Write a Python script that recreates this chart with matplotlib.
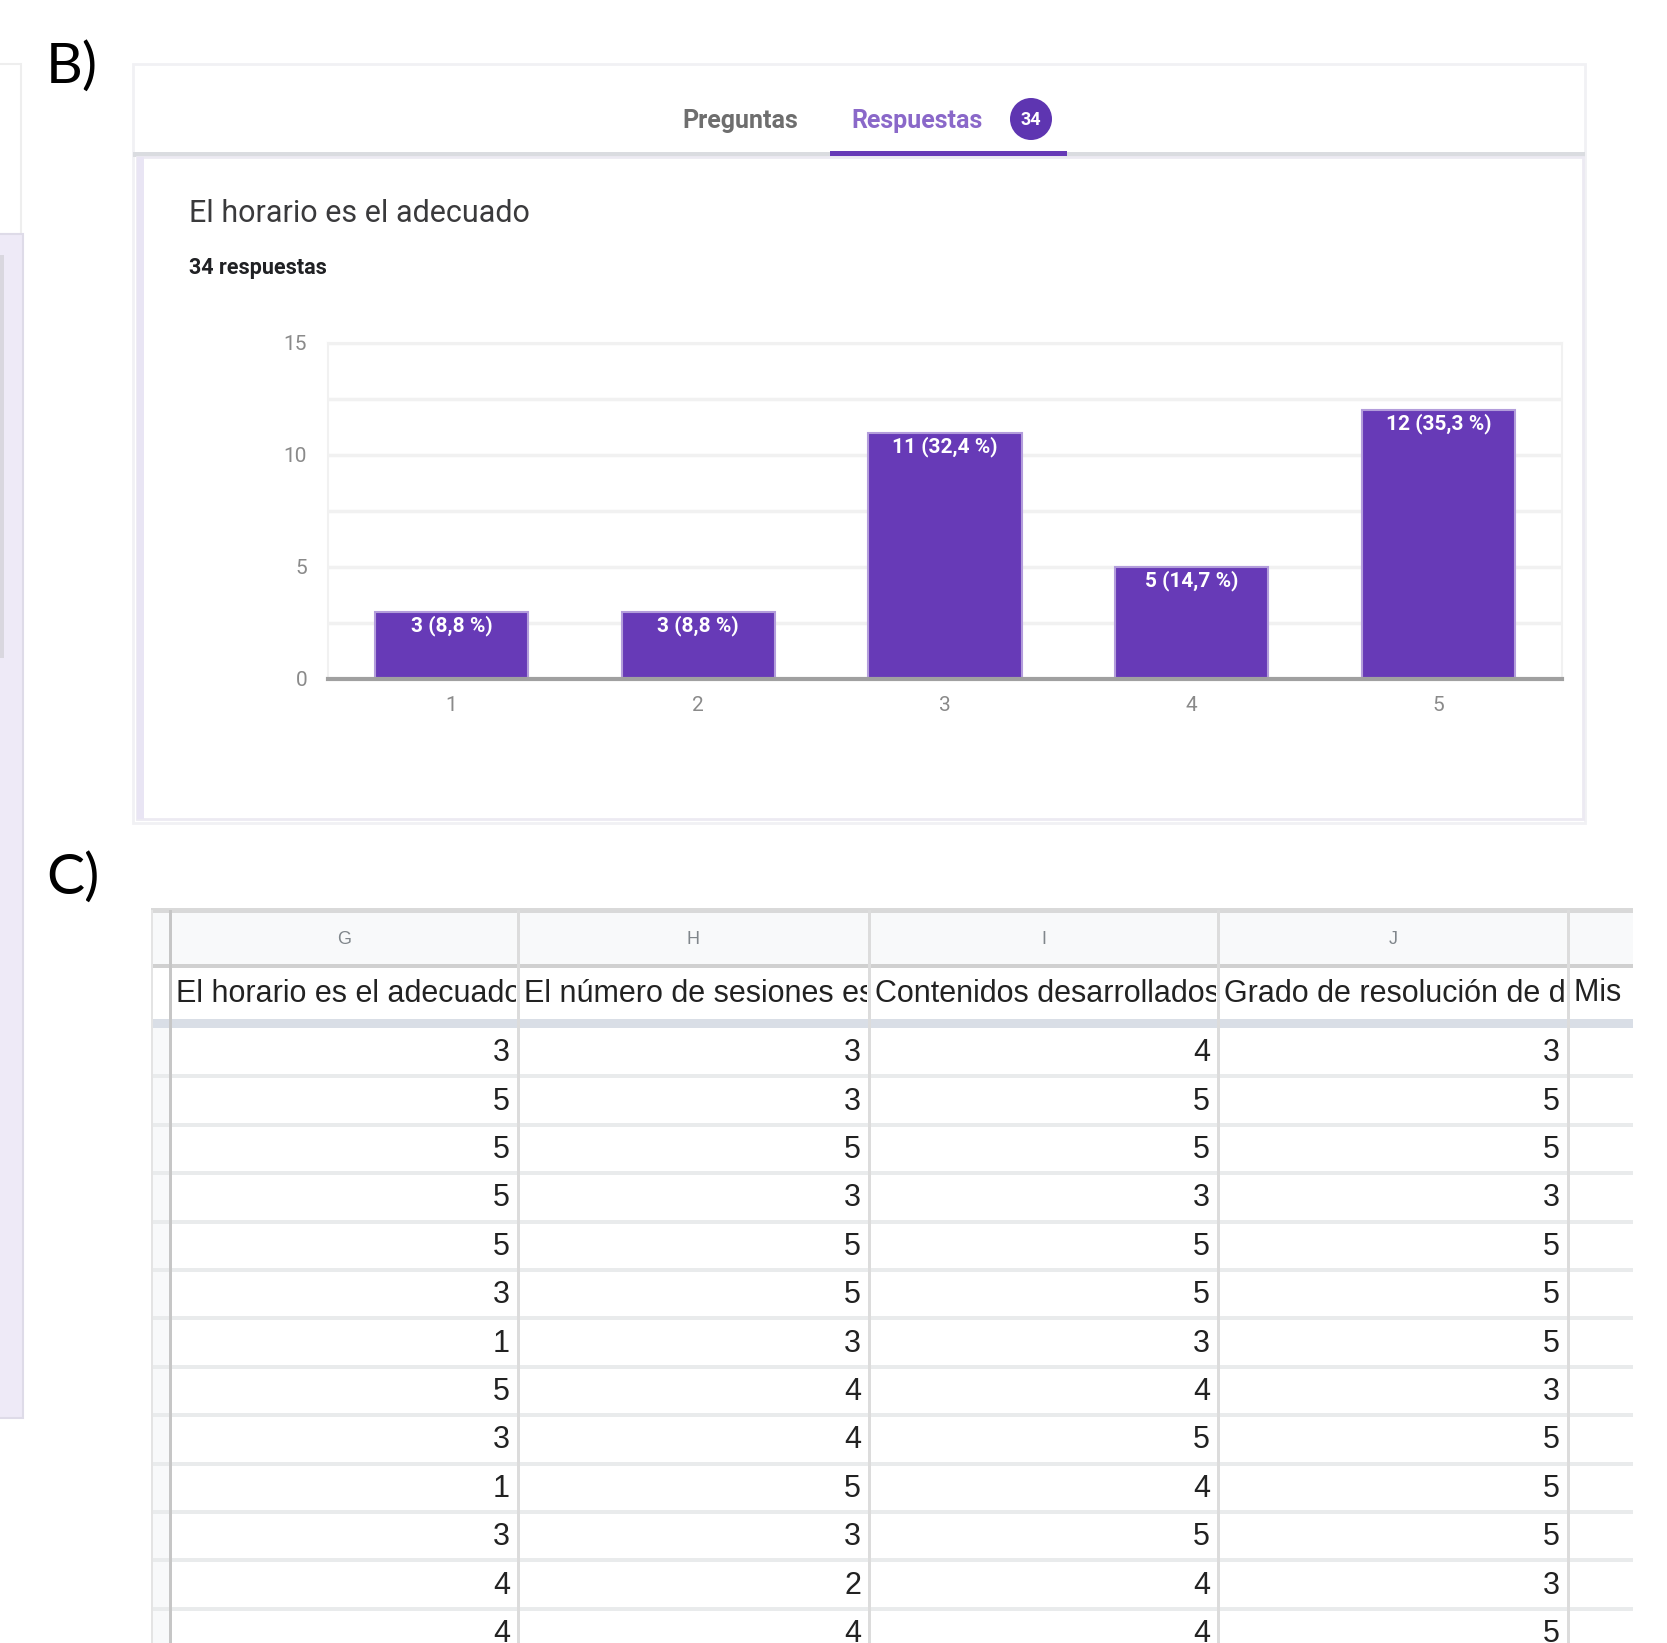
import matplotlib
matplotlib.use('Agg')
from matplotlib import pyplot as plt
from matplotlib.patches import Rectangle, Circle
from matplotlib.transforms import Bbox, TransformedBbox

# ---- data: Google Forms summary (panel B)
categories = [1, 2, 3, 4, 5]
counts = [3, 3, 11, 5, 12]
n_total = 34
chart_title = 'El horario es el adecuado'
tab_labels = ['Preguntas', 'Respuestas']

# ---- data: spreadsheet excerpt (panel C)
col_letters = ['G', 'H', 'I', 'J']
col_names = ['El horario es el adecuado',
             'El número de sesiones es el adecuado',
             'Contenidos desarrollados',
             'Grado de resolución de dudas',
             'Mis expectativas se han cumplido']
col_G = [3, 5, 5, 5, 5, 3, 1, 5, 3, 1, 3, 4, 4]
col_H = [3, 3, 5, 3, 5, 5, 3, 4, 4, 5, 3, 2, 4]
col_I = [4, 5, 5, 3, 5, 5, 3, 4, 5, 4, 5, 4, 4]
col_J = [3, 5, 5, 3, 5, 5, 5, 3, 5, 5, 5, 3, 5]

W, H = 1667, 1643
purple = '#673ab7'
ui_font = ['Roboto', 'DejaVu Sans']
sheet_font = ['Liberation Sans', 'DejaVu Sans']
label_font = ['Lato', 'DejaVu Sans']

fig = plt.figure(figsize=(W / 100, H / 100), dpi=100)
bg = fig.add_axes([0, 0, 1, 1])
bg.set_xlim(0, W)
bg.set_ylim(H, 0)
bg.axis('off')


def box(x0, y0, x1, y1, **kw):
    r = Rectangle((x0, y0), x1 - x0, y1 - y0, **kw)
    bg.add_patch(r)
    return r


# left side strip (cropped neighbour panel)
box(-2, 64, 21, 234, facecolor='white', edgecolor='#eeeeee', lw=1.5)
box(-2, 234, 23, 1418, facecolor='#eeeaf7', edgecolor='#dedbe8', lw=1.5)
box(0, 255, 4, 658, facecolor='#d9d7df', lw=0)

# panel letters
bg.text(46, 67, 'B)', fontsize=41, family=label_font, va='center', ha='left')
bg.text(46, 878, 'C)', fontsize=41, family=label_font, va='center', ha='left')

# ---- forms card
box(133, 64, 1585, 823, facecolor='white', edgecolor='#f1f1f4', lw=2)
box(133, 152, 1585, 157, facecolor='#dadce0', lw=0)
box(137, 157, 1583, 819, facecolor='white', edgecolor='#eceaf2', lw=2)
box(137, 157, 144, 819, facecolor='#e9e5f4', lw=0)

bg.text(740, 121, tab_labels[0], fontsize=18, family=ui_font, weight='bold',
        color='#6e6e6e', ha='center', va='center')
bg.text(917, 121, tab_labels[1], fontsize=18, family=ui_font, weight='bold',
        color='#8a68c9', ha='center', va='center')
bg.add_patch(Circle((1031, 119), 21, facecolor='#5e35b1', lw=0))
bg.text(1031, 120, str(n_total), fontsize=13, family=ui_font, weight='bold',
        color='white', ha='center', va='center')
box(830, 151, 1067, 156, facecolor=purple, lw=0)

bg.text(189, 213, chart_title, fontsize=22, family=ui_font,
        color='#3a3a3c', ha='left', va='center')
bg.text(189, 268, f'{n_total} respuestas', fontsize=15.5, family=ui_font,
        weight='bold', color='#202124', ha='left', va='center')

# bar chart
ax = fig.add_axes([328 / W, 1 - 679 / H, 1234 / W, 336 / H])
ax.set_facecolor('none')
ax.bar(categories, counts, width=0.62, color=purple, edgecolor='#b39ddb',
       linewidth=1.5, zorder=3)
for x, c in zip(categories, counts):
    lbl = f'{c} ({c / n_total * 100:.1f} %)'.replace('.', ',')
    ax.text(x, c - 0.62, lbl, ha='center', va='center', color='white',
            fontsize=15, weight='bold', family=ui_font, zorder=4)
ax.set_xlim(0.5, 5.5)
ax.set_ylim(0, 15)
ax.set_xticks(categories)
ax.set_yticks([0, 5, 10, 15])
ax.set_yticks([2.5, 7.5, 12.5], minor=True)
ax.grid(axis='y', which='both', color='#f1f1f1', lw=2.5, zorder=0)
ax.tick_params(which='both', length=0, labelsize=15, colors='#8a8a8a')
ax.tick_params(axis='x', pad=12)
ax.tick_params(axis='y', pad=15)
for t in ax.get_xticklabels() + ax.get_yticklabels():
    t.set_family(ui_font)
for s in ['left', 'right', 'top']:
    ax.spines[s].set_color('#f1f1f1')
    ax.spines[s].set_linewidth(1.5)
ax.spines['bottom'].set_color('#a0a0a0')
ax.spines['bottom'].set_linewidth(3)
ax.spines['bottom'].set_zorder(5)

# ---- spreadsheet
col_edges = [170, 518, 869, 1218, 1568, 1633]
t_left, t_right = 151, 1633
top, letter_bot, name_bot, frozen_bot = 910, 966, 1019, 1028
row_h = 48.4

box(t_left, top, t_right, letter_bot, facecolor='#f8f9fa', lw=0)
box(t_left, top - 2, t_right, top + 3, facecolor='#d9d9d9', lw=0)
box(t_left, letter_bot - 2, t_right, letter_bot + 2, facecolor='#d0d0d0', lw=0)
box(t_left, name_bot, t_right, frozen_bot, facecolor='#d9dee6', lw=0)
box(t_left, frozen_bot, col_edges[0], H, facecolor='#f8f9fa', lw=0)

for i, letter in enumerate(col_letters):
    xc = (col_edges[i] + col_edges[i + 1]) / 2
    bg.text(xc, (top + letter_bot) / 2 + 2, letter, fontsize=13,
            family=sheet_font, color='#80868b', ha='center', va='center')

for i, name in enumerate(col_names):
    x0, x1 = col_edges[i], col_edges[i + 1]
    cell = TransformedBbox(Bbox.from_extents(x0, letter_bot, x1 - 2, name_bot),
                           bg.transData)
    t = bg.text(x0 + 6, (letter_bot + name_bot) / 2 + 1, name, fontsize=22,
                family=sheet_font, color='#222222', ha='left', va='center')
    t.set_clip_box(cell)
    t.set_clip_on(True)

columns = [col_G, col_H, col_I, col_J]
n_rows = len(col_G)
for r in range(n_rows):
    y0 = frozen_bot + r * row_h
    box(t_left, y0 + row_h - 2, t_right, y0 + row_h + 2,
        facecolor='#e9ebec', lw=0)
    for i, vals in enumerate(columns):
        bg.text(col_edges[i + 1] - 8, y0 + row_h / 2 + 1, str(vals[r]),
                fontsize=22, family=sheet_font, color='#222222',
                ha='right', va='center')

for j, x in enumerate(col_edges[:-1]):
    c = '#c6c6c6' if j == 0 else '#dcdcdc'
    box(x - 1.5, top, x + 1.5, H, facecolor=c, lw=0)
box(t_left, top, t_left + 2, H, facecolor='#e4e4e4', lw=0)

fig.savefig('out.png', dpi=100, facecolor='white')
